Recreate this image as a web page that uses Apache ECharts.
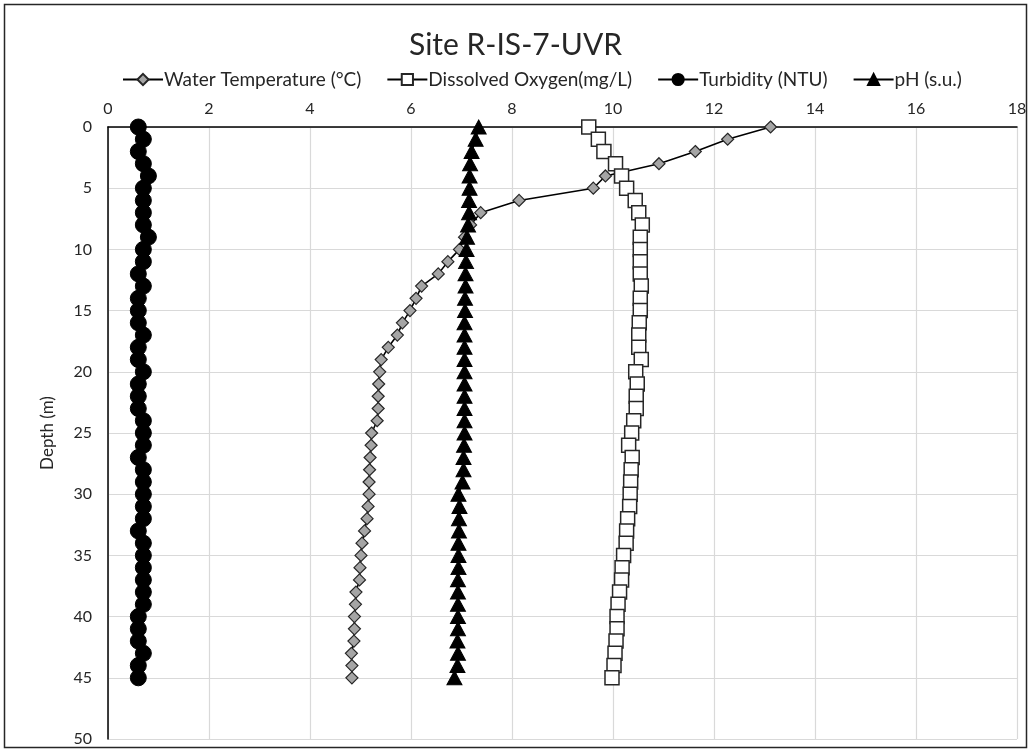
<!DOCTYPE html>
<html>
<head>
<meta charset="utf-8">
<title>Site R-IS-7-UVR</title>
<script src="https://cdn.jsdelivr.net/npm/echarts@6/dist/echarts.min.js"></script>
<style>
  html, body { margin: 0; padding: 0; background: #fff; }
  #chart { width: 1031px; height: 752px; }
</style>
</head>
<body>
<div id="chart"></div>
<script>
// Profile depths (m), one reading per metre
const depths = [0,1,2,3,4,5,6,7,8,9,10,11,12,13,14,15,16,17,18,19,20,21,22,23,24,25,26,27,28,29,30,31,32,33,34,35,36,37,38,39,40,41,42,43,44,45];

// Water temperature (°C)
const waterTemp = [13.12,12.27,11.63,10.91,9.85,9.61,8.14,7.38,7.18,7.06,
  6.96,6.73,6.54,6.21,6.10,5.98,5.83,5.73,5.55,5.41,
  5.38,5.36,5.35,5.35,5.33,5.22,5.21,5.19,5.18,5.17,
  5.17,5.15,5.13,5.08,5.03,5.01,4.99,4.98,4.91,4.90,
  4.88,4.88,4.87,4.82,4.83,4.83];

// Dissolved oxygen (mg/L)
const dissolvedOxygen = [9.52,9.71,9.82,10.05,10.17,10.27,10.44,10.51,10.58,10.54,
  10.54,10.54,10.54,10.56,10.54,10.54,10.52,10.51,10.51,10.56,
  10.45,10.48,10.46,10.46,10.41,10.37,10.31,10.38,10.36,10.35,
  10.34,10.33,10.29,10.27,10.26,10.21,10.18,10.17,10.13,10.10,
  10.08,10.08,10.06,10.04,10.02,9.98];

// Turbidity (NTU)
const turbidity = [0.6,0.7,0.6,0.7,0.8,0.7,0.7,0.7,0.7,0.8,
  0.7,0.7,0.6,0.7,0.6,0.6,0.6,0.7,0.6,0.6,
  0.7,0.6,0.6,0.6,0.7,0.7,0.7,0.6,0.7,0.7,
  0.7,0.7,0.7,0.6,0.7,0.7,0.7,0.7,0.7,0.7,
  0.6,0.6,0.6,0.7,0.6,0.6];

// pH (s.u.)
const ph = [7.34,7.28,7.20,7.17,7.16,7.16,7.15,7.15,7.13,7.11,
  7.10,7.09,7.08,7.08,7.07,7.07,7.06,7.06,7.06,7.06,
  7.06,7.06,7.06,7.06,7.06,7.06,7.05,7.04,7.04,7.02,
  6.94,6.96,6.95,6.95,6.94,6.94,6.94,6.93,6.93,6.93,
  6.93,6.93,6.92,6.93,6.92,6.86];

const seriesNames = ['Water Temperature (°C)', 'Dissolved Oxygen(mg/L)', 'Turbidity (NTU)', 'pH (s.u.)'];
const xTicks = [0, 18, 2];   // min, max, interval
const yTicks = [0, 50, 5];

const FONT = 'Lato, "Open Sans", sans-serif';
const pairs = vals => vals.map((v, i) => [v, depths[i]]);

const chart = echarts.init(document.getElementById('chart'), null, { renderer: 'canvas' });

function lineSeries(name, vals, symbol, size, fill, border, borderW) {
  return {
    name: name,
    type: 'line',
    data: pairs(vals),
    symbol: symbol,
    symbolSize: size,
    showAllSymbol: true,
    animation: false,
    lineStyle: { color: '#000', width: 1.6 },
    itemStyle: { color: fill, borderColor: border, borderWidth: borderW, opacity: 1 },
    emphasis: { disabled: true }
  };
}

chart.setOption({
  backgroundColor: '#fff',
  animation: false,
  title: {
    text: 'Site R-IS-7-UVR',
    left: 'center',
    top: 25,
    textStyle: { fontFamily: FONT, fontSize: 30, fontWeight: 'normal', color: '#262626' }
  },
  legend: {
    data: seriesNames,
    top: 65,
    left: 117,
    itemWidth: 40,
    itemHeight: 14,
    itemGap: 25,
    textStyle: { fontFamily: FONT, fontSize: 19, color: '#262626', padding: [0, 0, 0, -4] }
  },
  grid: { left: 108, right: 14, top: 127, bottom: 13, containLabel: false },
  xAxis: {
    type: 'value',
    position: 'top',
    min: xTicks[0], max: xTicks[1], interval: xTicks[2],
    axisLine: { show: true, onZero: false, lineStyle: { color: '#000', width: 1.5 } },
    axisTick: { show: false },
    axisLabel: { fontFamily: FONT, fontSize: 16, color: '#262626', margin: 10 },
    splitLine: { show: true, lineStyle: { color: '#d9d9d9', width: 1.2 } }
  },
  yAxis: {
    type: 'value',
    inverse: true,
    min: yTicks[0], max: yTicks[1], interval: yTicks[2],
    name: 'Depth (m)',
    nameLocation: 'middle',
    nameGap: 52,
    nameRotate: 90,
    nameTextStyle: { fontFamily: FONT, fontSize: 17, color: '#262626' },
    axisLine: { show: true, onZero: false, lineStyle: { color: '#000', width: 1.5 } },
    axisTick: { show: false },
    axisLabel: { fontFamily: FONT, fontSize: 16, color: '#262626', margin: 16 },
    splitLine: { show: true, lineStyle: { color: '#d9d9d9', width: 1.2 } }
  },
  series: [
    lineSeries(seriesNames[0], waterTemp, 'diamond', 12, '#a5a5a5', '#262626', 1.2),
    lineSeries(seriesNames[1], dissolvedOxygen, 'rect', 14, '#fff', '#262626', 1.5),
    lineSeries(seriesNames[2], turbidity, 'circle', 16, '#000', '#000', 1),
    lineSeries(seriesNames[3], ph, 'triangle', [15, 14], '#000', '#000', 1)
  ],
  graphic: [{
    type: 'rect',
    shape: { x: 4.5, y: 4.5, width: 1022, height: 743 },
    style: { fill: 'none', stroke: '#262626', lineWidth: 1.5 },
    silent: true
  }]
});
</script>
</body>
</html>
